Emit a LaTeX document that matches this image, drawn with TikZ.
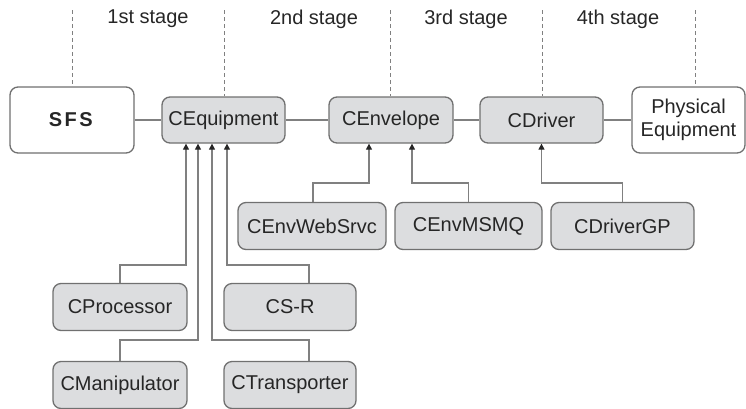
\documentclass[tikz,border=0pt]{standalone}
\usepackage{fontspec}
\setmainfont{Liberation Sans}
\usepackage{tikz}
\usetikzlibrary{arrows.meta,calc}
\definecolor{boxgray}{HTML}{DCDDDF}
\definecolor{edgegray}{HTML}{707070}
\definecolor{linegray}{HTML}{808080}
\definecolor{textgray}{HTML}{262626}

\begin{document}
\begin{tikzpicture}[x=1pt,y=-1pt,
		cls/.style={draw=edgegray,line width=1.3pt,fill=boxgray,rounded corners=8pt,
			text=textgray,font=\fontsize{20}{23}\selectfont,inner sep=0pt,minimum height=47pt},
		ext/.style={cls,fill=white,minimum height=66pt,align=center},
		conn/.style={draw=linegray,line width=1.3pt},
		inherit/.style={conn,-{Triangle[width=6pt,length=6pt,color=textgray]}},
		stageline/.style={draw=linegray,line width=1pt,dash pattern=on 4pt off 3pt},
		stage/.style={text=textgray,font=\fontsize{20}{23}\selectfont}]
			\useasboundingbox (0,0) rectangle (746,408);
			% stage headings
			\node [stage] (s1) at(148,19) {1st stage};
			\node [stage] (s2) at(314,19) {2nd stage};
			\node [stage] (s3) at(466,19) {3rd stage};
			\node [stage] (s4) at(618,19) {4th stage};
			% main chain
			\node [ext,minimum width=124pt] (sfs) at(72,120) {\addfontfeature{LetterSpace=12}\textbf{SFS}};
			\node [cls,minimum width=123pt,minimum height=46pt] (cequip) at(223.5,120) {CEquipment};
			\node [cls,minimum width=124pt,minimum height=46pt] (cenv) at(391,120) {CEnvelope};
			\node [cls,minimum width=123pt,minimum height=46pt] (cdriver) at(541.5,120) {CDriver};
			\node [ext,minimum width=113pt] (phys) at(688.5,120) {Physical\\Equipment};
			% derived classes
			\node [cls,minimum width=148pt] (cwebsrvc) at(312,226) {CEnvWebSrvc};
			\node [cls,minimum width=147pt] (cmsmq) at(468.5,226) {CEnvMSMQ};
			\node [cls,minimum width=143pt] (cdrivergp) at(622.5,226) {CDriverGP};
			\node [cls,minimum width=134pt] (cproc) at(120,307) {CProcessor};
			\node [cls,minimum width=132pt] (csr) at(290,307) {CS-R};
			\node [cls,minimum width=134pt] (cmanip) at(120,385) {CManipulator};
			\node [cls,minimum width=132pt] (ctrans) at(290,385) {CTransporter};
			% stage borders
			\coordinate (top1) at(72,10);
			\coordinate (top2) at(224,10);
			\coordinate (top3) at(390,10);
			\coordinate (top4) at(542,10);
			\coordinate (top5) at(695,10);
			\draw [stageline] (top1) -- (sfs.north);
			\draw [stageline] (top2) -- (top2 |- cequip.north);
			\draw [stageline] (top3) -- (top3 |- cenv.north);
			\draw [stageline] (top4) -- (top4 |- cdriver.north);
			\draw [stageline] (top5) -- (top5 |- phys.north);
			% chain links
			\draw [conn] (sfs.east) -- (cequip.west);
			\draw [conn] (cequip.east) -- (cenv.west);
			\draw [conn] (cenv.east) -- (cdriver.west);
			\draw [conn] (cdriver.east) -- (phys.west);
			% inheritance
			\draw [inherit] (cproc.north) -- ++(0,-18) -| ($(cequip.south)+(-37.5,0)$);
			\draw [inherit] (cmanip.north) -- ++(0,-21) -| ($(cequip.south)+(-25.5,0)$);
			\draw [inherit] ($(ctrans.north)+(19,0)$) -- ++(0,-21) -| ($(cequip.south)+(-11.5,0)$);
			\draw [inherit] ($(csr.north)+(19,0)$) -- ++(0,-18) -| ($(cequip.south)+(3.5,0)$);
			\draw [inherit] ($(cwebsrvc.north)+(1,0)$) -- ++(0,-19) -| ($(cenv.south)+(-22,0)$);
			\draw [inherit] (cmsmq.north) -- ++(0,-19) -| ($(cenv.south)+(21,0)$);
			\draw [inherit] (cdrivergp.north) -- ++(0,-19) -| (cdriver.south);
		\end{tikzpicture}
\end{document}
